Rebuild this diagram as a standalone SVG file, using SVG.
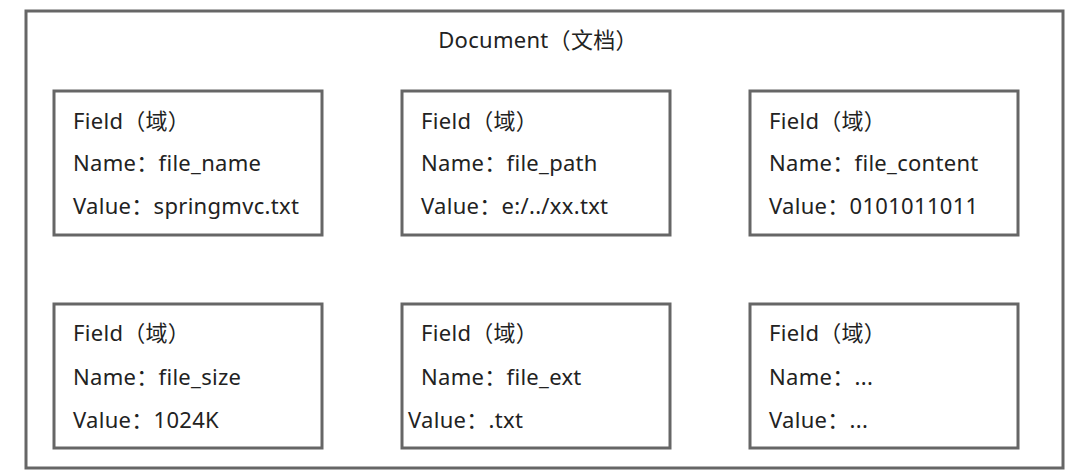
<svg xmlns="http://www.w3.org/2000/svg" width="1080" height="476" viewBox="0 0 1080 476">
<style>
.box{fill:#fff;stroke:#666;stroke-width:3}
text{font-family:"Noto Sans","Noto Sans CJK SC",sans-serif;font-size:22px;fill:#222;letter-spacing:0.3px}
</style>
<rect width="1080" height="476" fill="#fff"/>
<g id="document">
<rect class="box" x="26" y="11" width="1037" height="457"/>
<text x="538" y="48" text-anchor="middle">Document（文档）</text>
</g>
<g id="field1">
<rect class="box" x="54" y="91" width="268" height="144"/>
<text x="73" y="129">Field（域）</text>
<text x="73" y="171">Name：file_name</text>
<text x="73" y="214">Value：springmvc.txt</text>
</g>
<g id="field2">
<rect class="box" x="402" y="91" width="268" height="144"/>
<text x="421" y="129">Field（域）</text>
<text x="421" y="171">Name：file_path</text>
<text x="421" y="214">Value：e:/../xx.txt</text>
</g>
<g id="field3">
<rect class="box" x="750" y="91" width="268" height="144"/>
<text x="769" y="129">Field（域）</text>
<text x="769" y="171">Name：file_content</text>
<text x="769" y="214">Value：0101011011</text>
</g>
<g id="field4">
<rect class="box" x="54" y="304" width="268" height="144"/>
<text x="73" y="341">Field（域）</text>
<text x="73" y="385">Name：file_size</text>
<text x="73" y="428">Value：1024K</text>
</g>
<g id="field5">
<rect class="box" x="402" y="304" width="268" height="144"/>
<text x="421" y="341">Field（域）</text>
<text x="421" y="385">Name：file_ext</text>
<text x="408" y="428">Value：.txt</text>
</g>
<g id="field6">
<rect class="box" x="750" y="304" width="268" height="144"/>
<text x="769" y="341">Field（域）</text>
<text x="769" y="385">Name：...</text>
<text x="769" y="428">Value：...</text>
</g>
<g id="connectors"/>
</svg>
